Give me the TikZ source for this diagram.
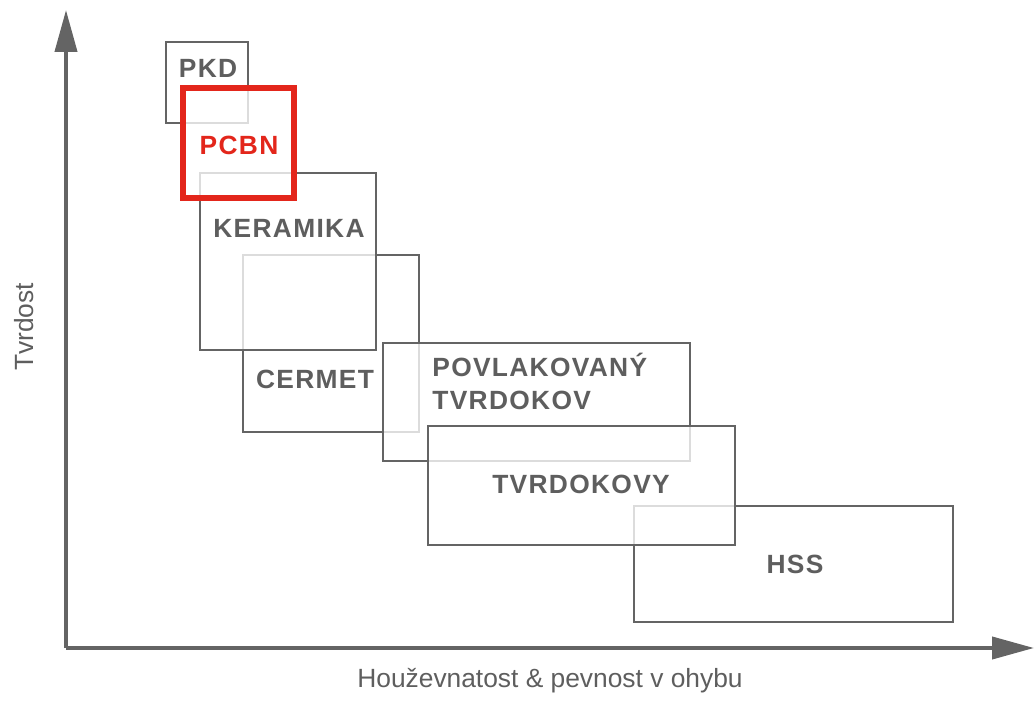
\documentclass[tikz,border=0pt]{standalone}
\usepackage{fontspec}
\setmainfont{Liberation Sans}
\newfontfamily\boxfont[LetterSpace=5]{Liberation Sans}
\usepackage{tikz}
\usetikzlibrary{arrows.meta,fit}
\definecolor{linegray}{HTML}{646464}
\definecolor{textgray}{HTML}{5E5E5E}
\definecolor{pcbnred}{HTML}{E3261B}
\tikzset{
    %Define standard arrow tip
    >={Triangle[length=0.84cm,width=0.44cm]},
    %Define style for boxes
    box/.style={
           rectangle,
           draw=linegray,
           line width=1.1pt,
           fill=white,
           fill opacity=0.78,
           draw opacity=1,
           inner sep=0pt},
    redbox/.style={
           box,
           draw=pcbnred,
           line width=2.9pt},
    % Define style for labels
    lbl/.style={
           anchor=base,
           inner sep=0pt,
           text=textgray,
           font=\boxfont\bfseries\fontsize{15}{18}\selectfont},
    axislbl/.style={
           anchor=base,
           inner sep=0pt,
           text=textgray,
           font=\fontsize{15}{18}\selectfont},
    % Define arrow style
    axis/.style={
           ->,
           draw=linegray,
           line width=2.3pt}
}
\begin{document}
\begin{tikzpicture}[x=0.02cm,y=-0.02cm]
\useasboundingbox (0,0) rectangle (1035,702);
 %axes
\coordinate (o) at (66,648);
\coordinate (ytip) at (66,10);
\coordinate (xtip) at (1034,648);
\draw[axis] (o) -- (ytip);
\draw[axis] (o) -- (xtip);
 %boxes, lowest first
\node[box, fit={(166,42) (248,123)}](pkd){};
\node[box, fit={(634,506) (953,622)}](hss){};
\node[box, fit={(243,255) (419,432)}](cermet){};
\node[box, fit={(200,173) (376,350)}](keramika){};
\node[redbox, fit={(183,88) (294,198)}](pcbn){};
\node[box, fit={(383,343) (690,461)}](povlak){};
\node[box, fit={(428,426) (735,545)}](tvrdokovy){};
 %labels
\node[lbl](pkdtxt) at (208,78){PKD};
\node[lbl, text=pcbnred](pcbntxt) at (239,155){PCBN};
\node[lbl](keramikatxt) at (289,238){KERAMIKA};
\node[lbl](cermettxt) at (315,389){CERMET};
\node[lbl, anchor=base west](povlaktxt) at (432,377){POVLAKOVANÝ};
\node[lbl, anchor=base west](povlaktxt2) at (432,410){TVRDOKOV};
\node[lbl](tvrdokovytxt) at (581,494){TVRDOKOVY};
\node[lbl](hsstxt) at (795,573){HSS};
\node[axislbl, rotate=90](ylbl) at (33,327){Tvrdost};
\node[axislbl](xlbl) at (550,687){Houževnatost \& pevnost v ohybu};
\end{tikzpicture}
\end{document}
